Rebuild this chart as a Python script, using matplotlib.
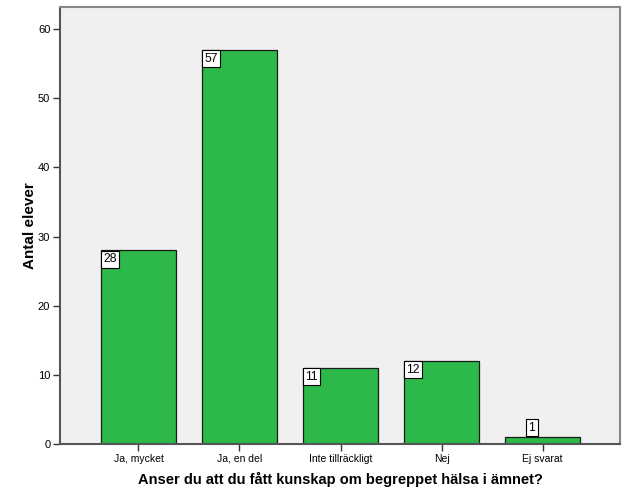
import numpy as np
import matplotlib
matplotlib.use("Agg")
import matplotlib.pyplot as plt

plt.rcParams['font.family'] = ['Liberation Sans', 'DejaVu Sans']

# ---------------------------------------------------------------------------
# Data
# ---------------------------------------------------------------------------
categories = ["Ja, mycket", "Ja, en del", "Inte tillräckligt", "Nej", "Ej svarat"]
counts = [28, 57, 11, 12, 1]
y_ticks = [0, 10, 20, 30, 40, 50, 60]

bar_color = '#2db84a'
bg_color = '#f0f0f0'

fig = plt.figure(figsize=(6.29, 5.04), dpi=100)
ax = fig.add_axes([60 / 629, 60 / 504, 560 / 629, 437 / 504])
ax.set_facecolor(bg_color)

x = np.arange(len(categories))
width = 0.743
bars = ax.bar(x, counts, width=width, color=bar_color,
              edgecolor='#1a1a1a', linewidth=0.9, zorder=2)

ax.set_xlim(-0.777, 4.767)
ax.set_ylim(0, 63.2)
ax.set_xticks(x)
ax.set_xticklabels(categories, fontsize=7.5)
ax.set_yticks(y_ticks)
ax.set_yticklabels([str(t) for t in y_ticks], fontsize=8)
ax.tick_params(axis='both', direction='out', length=5, width=1, color='#333333', pad=2)

for side in ('top', 'right'):
    ax.spines[side].set_color('#888888')
    ax.spines[side].set_linewidth(1.5)
for side in ('left', 'bottom'):
    ax.spines[side].set_color('#555555')
    ax.spines[side].set_linewidth(1.5)

ax.set_ylabel('Antal elever', fontsize=11, fontweight='bold', labelpad=0.5)
ax.set_xlabel('Anser du att du fått kunskap om begreppet hälsa i ämnet?',
              fontsize=10.5, fontweight='bold', labelpad=6)

# value labels: white boxes in the top-left corner of each bar,
# placed above the bar when the bar is too short
box = dict(boxstyle='square,pad=0.2', facecolor='white', edgecolor='black', linewidth=0.8)
for xi, v in zip(x, counts):
    left = xi - width / 2
    if v >= 5:
        ax.annotate(str(v), (left, v), xytext=(1.6, -2.0), textcoords='offset points',
                    ha='left', va='top', fontsize=8.8, bbox=box, zorder=3)
    else:
        ax.annotate(str(v), (left, v), xytext=(16.8, 2.4), textcoords='offset points',
                    ha='left', va='bottom', fontsize=8.8, bbox=box, zorder=3)

fig.savefig('out.png', dpi=100)
